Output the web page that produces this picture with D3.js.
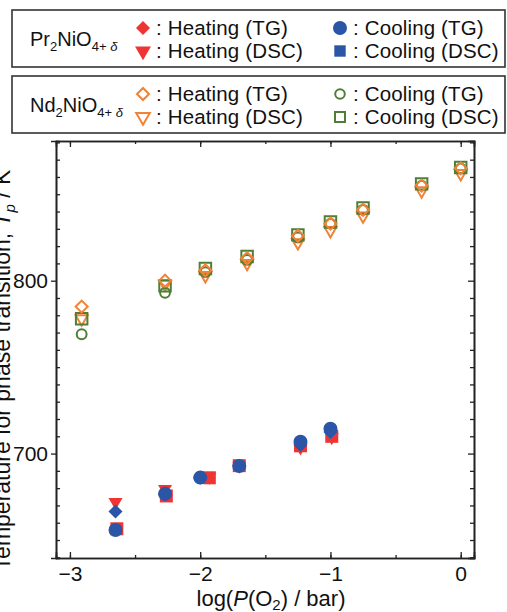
<!DOCTYPE html>
<html lang="en">
<head>
<meta charset="UTF-8">
<title>Phase transition temperature vs log P(O2)</title>
<script src="https://d3js.org/d3.v7.min.js"></script>
<style>
  body { margin: 0; background: #fff; }
  text { font-family: "Liberation Sans", Arial, Helvetica, sans-serif; fill: #111; }
</style>
</head>
<body>
<svg id="chart" width="507" height="612"></svg>
<script>
// ---- data ----
// Nd2NiO4+d : all four measurements share the same pO2 points
var ndX       = [-2.91, -2.27, -1.96, -1.64, -1.25, -1.00, -0.75, -0.30, 0.00];
var ndHeatTG  = [785, 800, 806, 813, 826, 833, 841, 855, 865];
var ndHeatDSC = [778, 798, 803, 810, 822, 829, 837.5, 852, 862];
var ndCoolTG  = [769, 793, 805, 812, 825, 833, 841, 855, 865];
var ndCoolDSC = [778, 797, 807, 814, 826.5, 834, 842, 856, 865.5];

// Pr2NiO4+d
var prHeatTGx  = [-2.65, -2.27, -2.00, -1.70, -1.23, -1.00];
var prHeatTG   = [666.5, 676.5, 686, 693, 705, 712.5];
var prHeatDSCx = [-2.65, -2.27, -1.93, -1.70, -1.23, -0.99];
var prHeatDSC  = [672, 679.5, 686.5, 693, 703.5, 709.5];
var prCoolTGx  = [-2.65, -2.27, -2.00, -1.70, -1.23, -1.00];
var prCoolTG   = [655.8, 676.7, 686.1, 692.8, 706.8, 714.4];
var prCoolDSCx = [-2.64, -2.26, -1.93, -1.70, -1.23, -0.99];
var prCoolDSC  = [656.5, 675.5, 686, 693, 704.5, 710];

var xTicks = [-3, -2, -1, 0];
var yTicks = [700, 800];

// colours
var red = "#ef3434", blue = "#2b55a6", orange = "#f28235", green = "#4f7e36";

var svg = d3.select("#chart");
var margin = { top: 141, right: 33, bottom: 54, left: 56 },
    width = 507 - margin.left - margin.right,
    height = 612 - margin.top - margin.bottom;

var x = d3.scaleLinear().domain([-3.107, 0.102]).range([0, width]);
var y = d3.scaleLinear().domain([639.6, 880.8]).range([height, 0]);

var g = svg.append("g")
    .attr("transform", "translate(" + margin.left + "," + margin.top + ")");

// minor ticks
var xMinor = d3.range(-3, 0.01, 0.5);
var yMinor = d3.range(640, 881, 10).filter(v => yTicks.indexOf(v) < 0);

// frame axes: bottom / top ticks inward, left majors outward, right inward
g.append("g").attr("transform", "translate(0," + height + ")")
    .call(d3.axisBottom(x).tickValues(xMinor).tickSize(-3).tickFormat(""));
g.append("g").attr("transform", "translate(0," + height + ")")
    .call(d3.axisBottom(x).tickValues(xTicks).tickSize(-6).tickPadding(8)
        .tickFormat(d => d === 0 ? "0" : "\u2212" + Math.abs(d)));
g.append("g").call(d3.axisTop(x).tickValues(xMinor).tickSize(-3).tickFormat(""));
g.append("g").call(d3.axisTop(x).tickValues(xTicks).tickSize(-6).tickFormat(""));

g.append("g").call(d3.axisLeft(y).tickValues(yMinor).tickSize(-4).tickFormat(""));
g.append("g").call(d3.axisLeft(y).tickValues(yTicks).tickSize(5).tickPadding(3));
g.append("g").attr("transform", "translate(" + width + ",0)")
    .call(d3.axisRight(y).tickValues(yMinor).tickSize(-4).tickFormat(""));
g.append("g").attr("transform", "translate(" + width + ",0)")
    .call(d3.axisRight(y).tickValues(yTicks).tickSize(-6).tickFormat(""));

g.selectAll(".domain").attr("stroke", "#222").attr("stroke-width", 1.6);
g.selectAll(".tick line").attr("stroke", "#222").attr("stroke-width", 1.3);
g.selectAll(".tick text").style("font-size", "21px")
    .style("font-family", "'Liberation Sans', Arial, sans-serif").attr("fill", "#111");

// axis labels
var xl = svg.append("text")
    .attr("x", 271).attr("y", 606)
    .style("text-anchor", "middle").style("font-size", "22px");
xl.append("tspan").text("log(");
xl.append("tspan").style("font-style", "italic").text("P");
xl.append("tspan").text("(O");
xl.append("tspan").attr("dy", 4).style("font-size", "15px").text("2");
xl.append("tspan").attr("dy", -4).text(") / bar)");

var yl = svg.append("text")
    .attr("transform", "translate(10,370) rotate(-90)")
    .style("text-anchor", "middle").style("font-size", "23px");
yl.append("tspan").text("Temperature for phase transition, ");
yl.append("tspan").style("font-style", "italic").text("T");
yl.append("tspan").attr("dy", 5).style("font-size", "15px").style("font-style", "italic").text("p");
yl.append("tspan").attr("dy", -5).text(" / K");

// marker generator
function shape(kind, size) {
    var t = kind === "triangle" ? d3.symbolTriangle
          : (kind === "square" || kind === "diamond") ? d3.symbolSquare : d3.symbolCircle;
    return d3.symbol().type(t).size(size)();
}
function rot(kind) { return kind === "diamond" ? " rotate(45)" : kind === "triangle" ? " rotate(180)" : ""; }

function plotSeries(xs, ys, kind, size, color, filled) {
    g.append("g").selectAll("path")
        .data(ys.map((v, i) => [xs[i], v]))
        .enter().append("path")
        .attr("d", shape(kind, size))
        .attr("transform", d => "translate(" + x(d[0]) + "," + y(d[1]) + ")" + rot(kind))
        .attr("fill", filled ? color : "none")
        .attr("stroke", filled ? "none" : color)
        .attr("stroke-width", filled ? 0 : 2);
}

// Nd (open)
plotSeries(ndX, ndHeatDSC, "triangle", 62, orange, false);
plotSeries(ndX, ndCoolDSC, "square", 132, green, false);
plotSeries(ndX, ndCoolTG, "circle", 76, green, false);
plotSeries(ndX, ndHeatTG, "diamond", 72, orange, false);

// Pr (filled)
plotSeries(prHeatDSCx, prHeatDSC, "triangle", 85, red, true);
plotSeries(prCoolDSCx, prCoolDSC, "square", 169, red, true);
plotSeries(prHeatTGx, prHeatTG, "diamond", 98, blue, true);
plotSeries(prCoolTGx, prCoolTG, "circle", 154, blue, true);

// ---- legends ----
function legendBox(top, name, items, filled) {
    var lg = svg.append("g");
    lg.append("rect").attr("x", 12).attr("y", top).attr("width", 493).attr("height", 57)
        .attr("fill", "none").attr("stroke", "#333").attr("stroke-width", 1.6);
    var t = lg.append("text").attr("x", 30).attr("y", top + 36).style("font-size", "20px");
    t.append("tspan").text(name);
    t.append("tspan").attr("dy", 5).style("font-size", "13px").text("2");
    t.append("tspan").attr("dy", -5).text("NiO");
    t.append("tspan").attr("dy", 5).style("font-size", "13px").text("4+");
    t.append("tspan").style("font-size", "13px").style("font-style", "italic").text(" \u03b4");
    items.forEach(function (it, i) {
        var cx = i < 2 ? 143 : 340, cy = top + (i % 2 === 0 ? 18 : 41);
        lg.append("path").attr("d", shape(it.kind, it.size))
            .attr("transform", "translate(" + cx + "," + cy + ")" + rot(it.kind))
            .attr("fill", filled ? it.color : "none")
            .attr("stroke", filled ? "none" : it.color)
            .attr("stroke-width", filled ? 0 : 2);
        lg.append("text").attr("x", cx + 13).attr("y", cy + 7)
            .style("font-size", "20.5px").style("letter-spacing", "0.15px")
            .text(": " + it.label);
    });
}
legendBox(10, "Pr", [
    { kind: "diamond", size: 98, color: red, label: "Heating (TG)" },
    { kind: "triangle", size: 110, color: red, label: "Heating (DSC)" },
    { kind: "circle", size: 154, color: blue, label: "Cooling (TG)" },
    { kind: "square", size: 130, color: blue, label: "Cooling (DSC)" }
], true);
legendBox(76, "Nd", [
    { kind: "diamond", size: 72, color: orange, label: "Heating (TG)" },
    { kind: "triangle", size: 80, color: orange, label: "Heating (DSC)" },
    { kind: "circle", size: 72, color: green, label: "Cooling (TG)" },
    { kind: "square", size: 100, color: green, label: "Cooling (DSC)" }
], false);
</script>
</body>
</html>
